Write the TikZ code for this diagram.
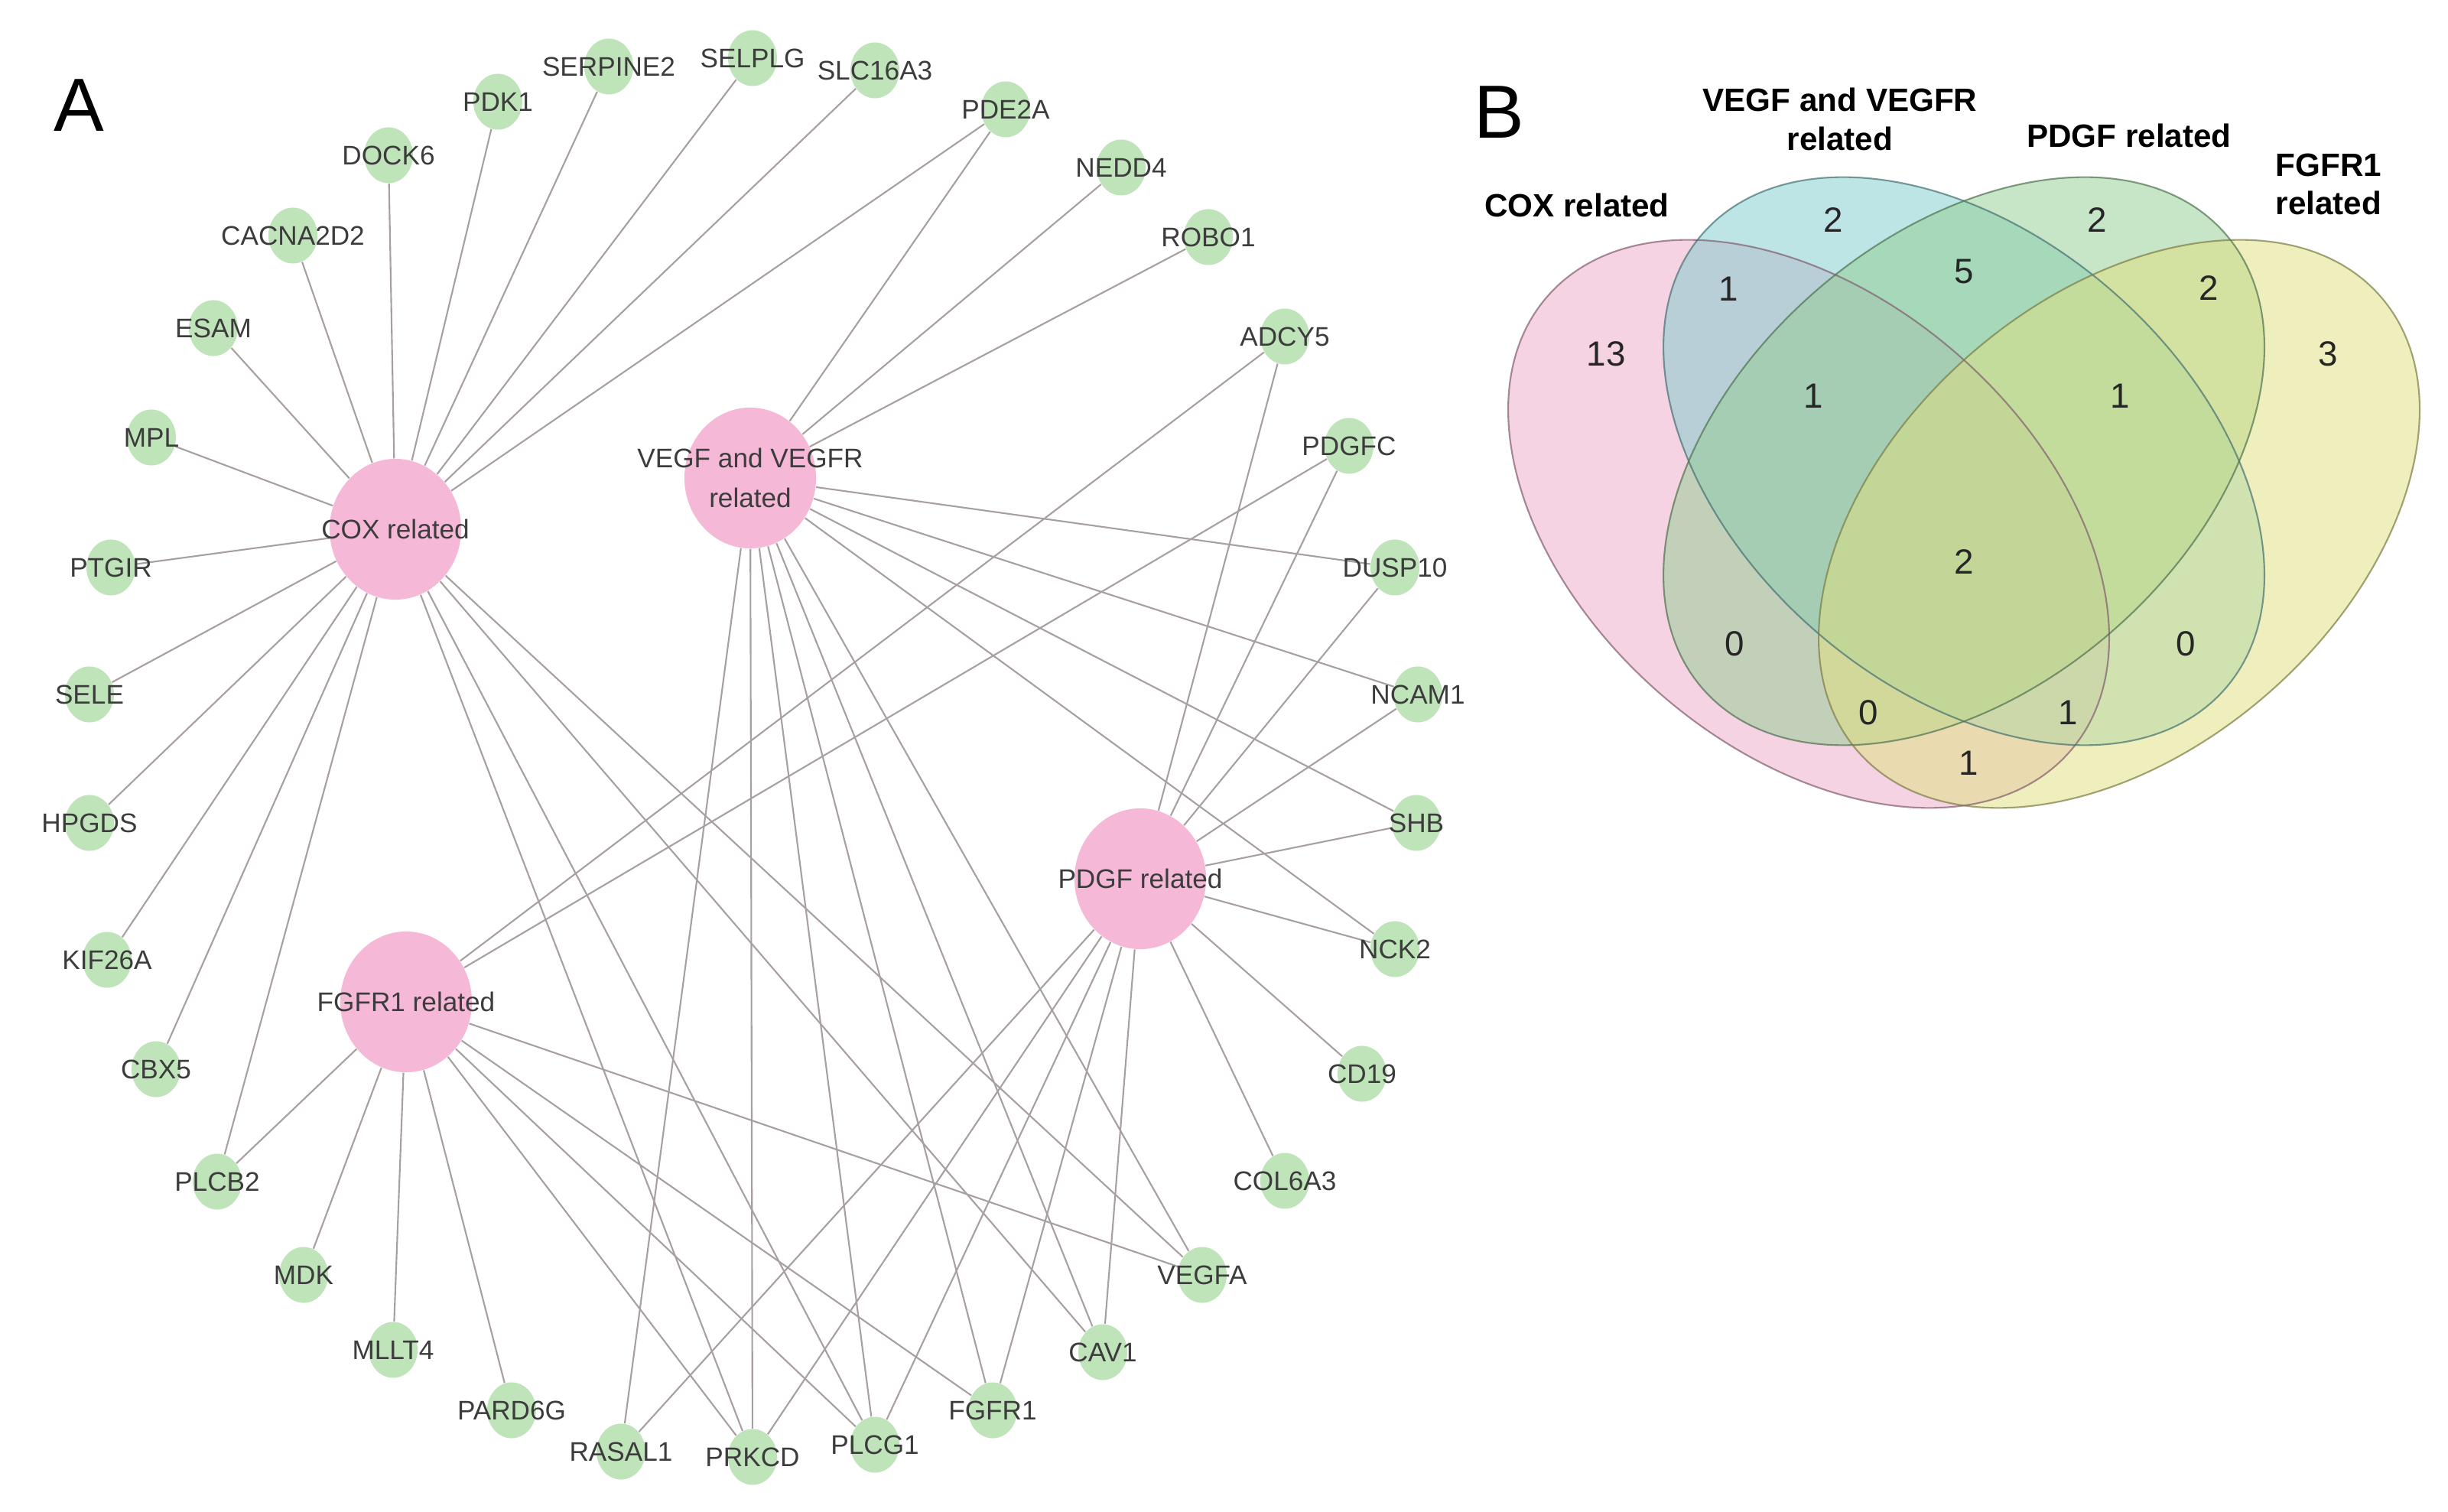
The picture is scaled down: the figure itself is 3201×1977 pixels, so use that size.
\documentclass[tikz,border=0pt]{standalone}
\usepackage{fontspec}
\setmainfont{Liberation Sans}
\usetikzlibrary{shapes.geometric,backgrounds}

\definecolor{hubpink}{RGB}{245,185,215}
\definecolor{genegreen}{RGB}{192,228,186}
\definecolor{linkgray}{RGB}{168,160,160}
\definecolor{textgray}{RGB}{60,60,60}
\definecolor{coxpink}{RGB}{237,169,201}
\definecolor{vegfblue}{RGB}{125,205,205}
\definecolor{pdgfgreen}{RGB}{145,205,145}
\definecolor{fgfryellow}{RGB}{225,225,125}

\tikzset{
  genetext/.style={font=\fontsize{10}{14.8}\selectfont, text=textgray, inner sep=0pt},
  gene/.style={ellipse, fill=genegreen, inner sep=0pt,
    minimum width=0.64cm, minimum height=0.73cm,
    label={[genetext]center:#1}},
  hub/.style={ellipse, fill=hubpink, inner sep=0pt,
    minimum width=1.72cm, minimum height=1.84cm,
    label={[genetext, align=center]center:#1}},
  link/.style={draw=linkgray, line width=0.6pt},
  setline/.style={line width=0.6pt, draw opacity=0.7},
  setname/.style={font=\bfseries\fontsize{12}{14.4}\selectfont, align=center},
  count/.style={font=\fontsize{13}{15}\selectfont, text=black!85},
  panel/.style={font=\fontsize{28}{32}\selectfont}
}

\begin{document}
\begin{tikzpicture}[x=0.01cm, y=-0.01cm]
    \useasboundingbox (0,0) rectangle (3201,1977);

    % Panel letters
    \node[panel] (panelA) at (103,138) {A};
    \node[panel] (panelB) at (1960,147) {B};

    % Define the hubs
    \node[hub={COX related}] (cox) at (517,692) {};
    \node[hub={VEGF and VEGFR\\related}] (vegf) at (981,625) {};
    \node[hub={PDGF related}] (pdgf) at (1491,1149) {};
    \node[hub={FGFR1 related}] (fgfrhub) at (531,1310) {};

    % Define the genes
    \node[gene=PDK1] (pdk1) at (651,133) {};
    \node[gene=SERPINE2] (serpine2) at (796,87) {};
    \node[gene=SELPLG] (selplg) at (984,76) {};
    \node[gene=SLC16A3] (slc16a3) at (1144,92) {};
    \node[gene=PDE2A] (pde2a) at (1315,143) {};
    \node[gene=NEDD4] (nedd4) at (1466,219) {};
    \node[gene=ROBO1] (robo1) at (1580,310) {};
    \node[gene=ADCY5] (adcy5) at (1680,440) {};
    \node[gene=PDGFC] (pdgfc) at (1764,583) {};
    \node[gene=DUSP10] (dusp10) at (1824,742) {};
    \node[gene=NCAM1] (ncam1) at (1854,908) {};
    \node[gene=SHB] (shb) at (1852,1076) {};
    \node[gene=NCK2] (nck2) at (1824,1241) {};
    \node[gene=CD19] (cd19) at (1781,1404) {};
    \node[gene=COL6A3] (col6a3) at (1680,1544) {};
    \node[gene=VEGFA] (vegfa) at (1572,1667) {};
    \node[gene=CAV1] (cav1) at (1442,1768) {};
    \node[gene=FGFR1] (fgfr1) at (1298,1844) {};
    \node[gene=PLCG1] (plcg1) at (1144,1889) {};
    \node[gene=PRKCD] (prkcd) at (984,1905) {};
    \node[gene=RASAL1] (rasal1) at (812,1898) {};
    \node[gene=PARD6G] (pard6g) at (669,1844) {};
    \node[gene=MLLT4] (mllt4) at (514,1765) {};
    \node[gene=MDK] (mdk) at (397,1667) {};
    \node[gene=PLCB2] (plcb2) at (284,1545) {};
    \node[gene=CBX5] (cbx5) at (204,1398) {};
    \node[gene=KIF26A] (kif26a) at (140,1255) {};
    \node[gene=HPGDS] (hpgds) at (117,1076) {};
    \node[gene=SELE] (sele) at (117,908) {};
    \node[gene=PTGIR] (ptgir) at (145,742) {};
    \node[gene=MPL] (mpl) at (198,572) {};
    \node[gene=ESAM] (esam) at (279,429) {};
    \node[gene=CACNA2D2] (cacna2d2) at (383,308) {};
    \node[gene=DOCK6] (dock6) at (508,203) {};

    % Draw the edges
    \begin{scope}[on background layer]
    \fill[white] (0,0) rectangle (3201,1977);
    \draw[link] (cox) -- (dock6);
    \draw[link] (cox) -- (pdk1);
    \draw[link] (cox) -- (serpine2);
    \draw[link] (cox) -- (selplg);
    \draw[link] (cox) -- (slc16a3);
    \draw[link] (cox) -- (pde2a);
    \draw[link] (cox) -- (cacna2d2);
    \draw[link] (cox) -- (esam);
    \draw[link] (cox) -- (mpl);
    \draw[link] (cox) -- (ptgir);
    \draw[link] (cox) -- (sele);
    \draw[link] (cox) -- (hpgds);
    \draw[link] (cox) -- (kif26a);
    \draw[link] (cox) -- (cbx5);
    \draw[link] (cox) -- (plcb2);
    \draw[link] (cox) -- (prkcd);
    \draw[link] (cox) -- (plcg1);
    \draw[link] (cox) -- (cav1);
    \draw[link] (cox) -- (vegfa);

    \draw[link] (vegf) -- (pde2a);
    \draw[link] (vegf) -- (nedd4);
    \draw[link] (vegf) -- (robo1);
    \draw[link] (vegf) -- (dusp10);
    \draw[link] (vegf) -- (ncam1);
    \draw[link] (vegf) -- (shb);
    \draw[link] (vegf) -- (nck2);
    \draw[link] (vegf) -- (rasal1);
    \draw[link] (vegf) -- (prkcd);
    \draw[link] (vegf) -- (plcg1);
    \draw[link] (vegf) -- (fgfr1);
    \draw[link] (vegf) -- (cav1);
    \draw[link] (vegf) -- (vegfa);

    \draw[link] (pdgf) -- (adcy5);
    \draw[link] (pdgf) -- (pdgfc);
    \draw[link] (pdgf) -- (dusp10);
    \draw[link] (pdgf) -- (ncam1);
    \draw[link] (pdgf) -- (shb);
    \draw[link] (pdgf) -- (nck2);
    \draw[link] (pdgf) -- (cd19);
    \draw[link] (pdgf) -- (col6a3);
    \draw[link] (pdgf) -- (rasal1);
    \draw[link] (pdgf) -- (prkcd);
    \draw[link] (pdgf) -- (plcg1);
    \draw[link] (pdgf) -- (fgfr1);
    \draw[link] (pdgf) -- (cav1);

    \draw[link] (fgfrhub) -- (adcy5);
    \draw[link] (fgfrhub) -- (pdgfc);
    \draw[link] (fgfrhub) -- (plcb2);
    \draw[link] (fgfrhub) -- (mdk);
    \draw[link] (fgfrhub) -- (mllt4);
    \draw[link] (fgfrhub) -- (pard6g);
    \draw[link] (fgfrhub) -- (vegfa);
    \draw[link] (fgfrhub) -- (prkcd);
    \draw[link] (fgfrhub) -- (plcg1);
    \draw[link] (fgfrhub) -- (fgfr1);
    \end{scope}

    % Venn diagram of the four sets
    \fill[coxpink, fill opacity=0.5, rotate around={-41:(2365,685)}] (2365,685) ellipse [x radius=453, y radius=295];
    \fill[vegfblue, fill opacity=0.5, rotate around={-41:(2568,603)}] (2568,603) ellipse [x radius=453, y radius=295];
    \fill[pdgfgreen, fill opacity=0.5, rotate around={41:(2568,603)}] (2568,603) ellipse [x radius=453, y radius=295];
    \fill[fgfryellow, fill opacity=0.5, rotate around={41:(2771,685)}] (2771,685) ellipse [x radius=453, y radius=295];
    \draw[setline, draw=coxpink!55!black, rotate around={-41:(2365,685)}] (2365,685) ellipse [x radius=453, y radius=295];
    \draw[setline, draw=vegfblue!55!black, rotate around={-41:(2568,603)}] (2568,603) ellipse [x radius=453, y radius=295];
    \draw[setline, draw=pdgfgreen!55!black, rotate around={41:(2568,603)}] (2568,603) ellipse [x radius=453, y radius=295];
    \draw[setline, draw=fgfryellow!55!black, rotate around={41:(2771,685)}] (2771,685) ellipse [x radius=453, y radius=295];

    % Set names
    \node[setname] (coxname) at (2062,268) {COX related};
    \node[setname] (vegfname) at (2406,156) {VEGF and VEGFR\\related};
    \node[setname] (pdgfname) at (2784,177) {PDGF related};
    \node[setname] (fgfrname) at (3045,241) {FGFR1\\related};

    % Region counts
    \node[count] (c13) at (2100,463) {13};
    \node[count] (cvegf) at (2397,288) {2};
    \node[count] (cpdgf) at (2742,288) {2};
    \node[count] (cfgfr) at (3044,463) {3};
    \node[count] (ccv) at (2260,378) {1};
    \node[count] (cvp) at (2568,355) {5};
    \node[count] (cpf) at (2888,377) {2};
    \node[count] (ccvp) at (2371,518) {1};
    \node[count] (cvpf) at (2772,518) {1};
    \node[count] (call) at (2568,735) {2};
    \node[count] (ccp) at (2268,842) {0};
    \node[count] (cvf) at (2858,842) {0};
    \node[count] (ccpf) at (2443,932) {0};
    \node[count] (ccvf) at (2704,932) {1};
    \node[count] (ccf) at (2574,998) {1};
\end{tikzpicture}
\end{document}
